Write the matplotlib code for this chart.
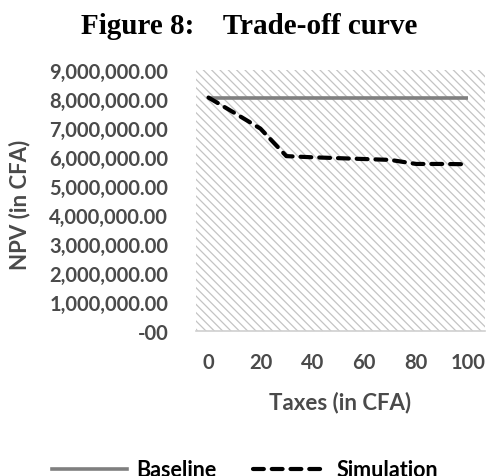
import matplotlib
matplotlib.use('Agg')
import matplotlib.pyplot as plt
from matplotlib.patches import Rectangle
from matplotlib.lines import Line2D
from matplotlib.ticker import FuncFormatter

# data
taxes = [0, 10, 20, 30, 40, 50, 60, 70, 80, 90, 100]
baseline = [8050000] * len(taxes)
simulation = [8050000, 7520000, 6980000, 6030000, 5990000, 5960000,
              5930000, 5900000, 5760000, 5760000, 5750000]
x_ticks = [0, 20, 40, 60, 80, 100]
y_ticks = [0, 1e6, 2e6, 3e6, 4e6, 5e6, 6e6, 7e6, 8e6, 9e6]

label_font = ['Lato', 'DejaVu Sans']
gray_text = '#4a4a4a'

plt.rcParams['hatch.linewidth'] = 0.9

fig = plt.figure(figsize=(4.9, 4.77), dpi=100)
ax = fig.add_axes([196 / 490, 145 / 477, 289 / 490, 261 / 477])

# hatched plot area
ax.add_patch(Rectangle((0, 0), 1, 1, transform=ax.transAxes, facecolor='white',
                       edgecolor='#c4c4c4', hatch='\\\\\\\\', linewidth=0, zorder=0))

ax.plot(taxes, baseline, color='#7f7f7f', linewidth=2.6, solid_capstyle='butt', zorder=3)
sim_line, = ax.plot(taxes, simulation, color='black', linewidth=3.0,
                    dashes=(2.6, 1.9), zorder=4)
sim_line.set_dash_capstyle('round')

ax.set_xlim(-4.8, 106.5)
ax.set_ylim(0, 9e6)
ax.set_xticks(x_ticks)
ax.set_yticks(y_ticks)
ax.yaxis.set_major_formatter(FuncFormatter(lambda v, p: '-00' if v == 0 else f'{v:,.2f}'))

for s in ['top', 'right', 'left']:
    ax.spines[s].set_visible(False)
ax.spines['bottom'].set_color('#d0d0d0')
ax.spines['bottom'].set_linewidth(1.2)
ax.tick_params(length=0, labelcolor=gray_text)
ax.tick_params(axis='y', pad=20)
ax.tick_params(axis='x', pad=15)
for lab in ax.get_xticklabels() + ax.get_yticklabels():
    lab.set_fontfamily(label_font)
    lab.set_fontweight('bold')
    lab.set_fontsize(14.5)

fig.text(20 / 490, 1 - 205 / 477, 'NPV (in CFA)', rotation=90, ha='center', va='center',
         fontsize=16, fontweight='bold', color=gray_text, family=label_font)
fig.text(340 / 490, 1 - 403 / 477, 'Taxes (in CFA)', ha='center', va='center',
         fontsize=16, fontweight='bold', color=gray_text, family=label_font)

fig.text(249 / 490, 1 - 27 / 477, 'Figure 8:    Trade-off curve', ha='center', va='center',
         fontsize=21, fontweight='bold', color='black', family=['Liberation Serif'])

handles = [Line2D([], [], color='#7f7f7f', linewidth=2.6),
           Line2D([], [], color='black', linewidth=3.0, dashes=(2.6, 1.9),
                  dash_capstyle='round')]
fig.legend(handles, ['Baseline', 'Simulation'], ncol=2, frameon=False,
           loc='center', bbox_to_anchor=(245 / 490, 1 - 471 / 477),
           handlelength=3.5, columnspacing=1.7, handletextpad=0.4,
           prop={'family': label_font, 'weight': 'bold', 'size': 15.5})

fig.savefig('out.png', dpi=100)
